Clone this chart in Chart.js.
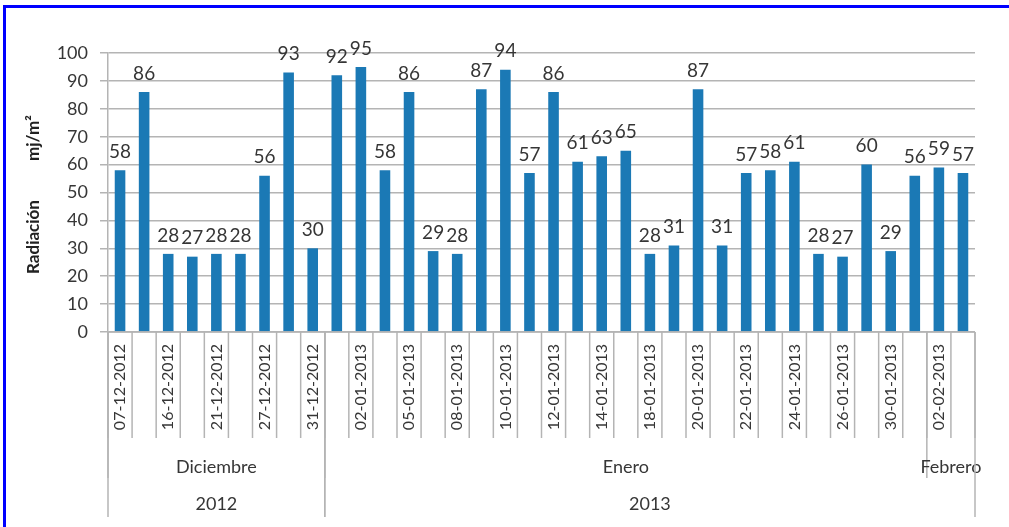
<!DOCTYPE html>
<html lang="es">
<head>
  <meta charset="UTF-8">
  <title>Radiación</title>
  <script src="https://cdn.jsdelivr.net/npm/chart.js"></script>
  <style>
    html, body { margin: 0; padding: 0; background: #fff; overflow: hidden; }
    .linea-sup { position: absolute; left: 3px; top: 5px; width: 1006px; height: 3px; background: #0000ff; }
    .linea-izq { position: absolute; left: 3px; top: 5px; width: 3px; height: 522px; background: #0000ff; }
    .caja { position: absolute; left: 0; top: 0; width: 1009px; height: 527px; }
  </style>
</head>
<body>
<div class="caja"><canvas id="grafico" width="1009" height="527"></canvas></div>
<div class="linea-sup"></div>
<div class="linea-izq"></div>

<script>
// fechas visibles (las categorias intermedias no tienen rotulo en el original)
const fechas = [
  '07-12-2012', '', '16-12-2012', '', '21-12-2012', '', '27-12-2012', '', '31-12-2012',
  '', '02-01-2013', '', '05-01-2013', '', '08-01-2013', '', '10-01-2013', '',
  '12-01-2013', '', '14-01-2013', '', '18-01-2013', '', '20-01-2013', '',
  '22-01-2013', '', '24-01-2013', '', '26-01-2013', '', '30-01-2013', '',
  '02-02-2013', ''
];
const radiacion = [
  58, 86, 28, 27, 28, 28, 56, 93, 30,
  92, 95, 58, 86, 29, 28, 87, 94, 57, 86, 61, 63, 65, 28, 31, 87, 31,
  57, 58, 61, 28, 27, 60, 29, 56,
  59, 57
];
const meses = ['Diciembre', 'Enero', 'Febrero'];
const diasPorMes = [9, 25, 2];
const anios = ['2012', '2013'];
const diasPorAnio = [9, 27];
const ticksY = [0, 10, 20, 30, 40, 50, 60, 70, 80, 90, 100];

const gris = '#b4b4b4';
const texto = '#363636';
const fuente = 'Lato, "Open Sans", sans-serif';

// rotulos de valor sobre cada barra
const etiquetasValor = {
  id: 'etiquetasValor',
  afterDatasetsDraw(chart) {
    const ctx = chart.ctx;
    const meta = chart.getDatasetMeta(0);
    ctx.save();
    ctx.font = '19px ' + fuente;
    ctx.fillStyle = texto;
    ctx.textAlign = 'center';
    ctx.textBaseline = 'bottom';
    meta.data.forEach((bar, i) => {
      ctx.fillText(String(radiacion[i]), bar.x, bar.y - 9);
    });
    ctx.restore();
  }
};

// eje x en varios niveles: separadores, meses y años
const ejeMultinivel = {
  id: 'ejeMultinivel',
  afterDraw(chart) {
    const ctx = chart.ctx;
    const x = chart.scales.x;
    const base = chart.chartArea.bottom;
    const paso = x.getPixelForValue(1) - x.getPixelForValue(0);
    const borde = i => x.getPixelForValue(0) - paso / 2 + i * paso;

    ctx.save();
    ctx.strokeStyle = gris;
    ctx.lineWidth = 1.5;
    const linea = (px, y0, y1) => {
      ctx.beginPath(); ctx.moveTo(px, y0); ctx.lineTo(px, y1); ctx.stroke();
    };
    // linea del eje
    ctx.beginPath(); ctx.moveTo(borde(0), base); ctx.lineTo(borde(fechas.length), base); ctx.stroke();
    // separadores de fecha
    for (let i = 0; i <= fechas.length; i++) linea(borde(i), base, base + 106);

    ctx.fillStyle = texto;
    ctx.textAlign = 'center';
    ctx.textBaseline = 'middle';
    ctx.font = '18px ' + fuente;

    // meses
    let ini = 0;
    meses.forEach((m, k) => {
      const fin = ini + diasPorMes[k];
      linea(borde(ini), base, base + 146);
      ctx.fillText(m, (borde(ini) + borde(fin)) / 2, base + 135);
      ini = fin;
    });
    // años
    ini = 0;
    anios.forEach((a, k) => {
      const fin = ini + diasPorAnio[k];
      linea(borde(ini), base, base + 185);
      linea(borde(fin), base, base + 185);
      ctx.fillText(a, (borde(ini) + borde(fin)) / 2, base + 172);
      ini = fin;
    });

    // titulo del eje y
    ctx.font = 'bold 17px ' + fuente;
    ctx.fillStyle = '#222';
    ctx.translate(34, 0);
    ctx.rotate(-Math.PI / 2);
    ctx.fillText('Radiación', -237, 0);
    ctx.fillText('mj/m²', -138, 0);
    ctx.restore();
  }
};

new Chart(document.getElementById('grafico'), {
  type: 'bar',
  data: {
    labels: fechas,
    datasets: [{
      data: radiacion,
      backgroundColor: '#1b79b5',
      borderWidth: 0,
      categoryPercentage: 1,
      barPercentage: 0.44
    }]
  },
  options: {
    responsive: false,
    animation: false,
    events: [],
    layout: { padding: { top: 53, right: 34, bottom: 0, left: 10 } },
    plugins: { legend: { display: false }, tooltip: { enabled: false } },
    scales: {
      x: {
        afterFit: s => { s.height = 195; },
        grid: { display: false, drawTicks: false },
        border: { display: false },
        ticks: {
          autoSkip: false,
          minRotation: 90,
          maxRotation: 90,
          padding: 12,
          color: texto,
          font: { family: fuente, size: 16 }
        }
      },
      y: {
        min: 0,
        max: 100,
        afterFit: s => { s.width = 98; },
        afterBuildTicks: s => { s.ticks = ticksY.map(v => ({ value: v })); },
        grid: { color: gris, lineWidth: 1.5, tickLength: 8 },
        border: { color: gris, width: 1.5 },
        ticks: {
          padding: 12,
          color: texto,
          font: { family: fuente, size: 18 }
        }
      }
    }
  },
  plugins: [etiquetasValor, ejeMultinivel]
});
</script>
</body>
</html>
